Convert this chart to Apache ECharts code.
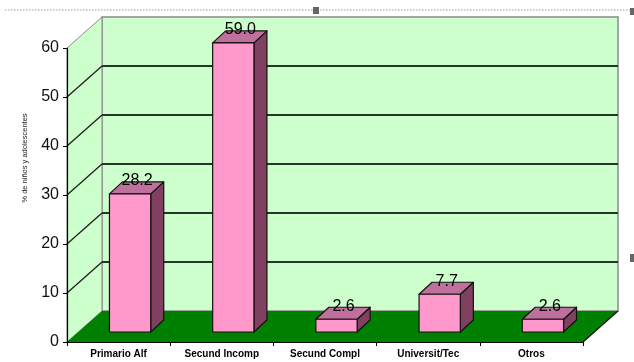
<!DOCTYPE html>
<html>
<head>
<meta charset="utf-8">
<script src="https://cdn.jsdelivr.net/npm/echarts@6/dist/echarts.min.js"></script>
<style>
  html, body { margin: 0; padding: 0; background: #fff; }
  #chart { width: 634px; height: 362px; }
</style>
</head>
<body>
<div id="chart"></div>
<script>
// Nivel educativo: porcentaje por categoría
const categories = ['Primario Alf', 'Secund Incomp', 'Secund Compl', 'Universit/Tec', 'Otros'];
const values = [28.2, 59.0, 2.6, 7.7, 2.6];
const yTicks = [0, 10, 20, 30, 40, 50, 60];
const yTitle = '% de niños y adolescentes';

// Oblique projection used for the pseudo-3D box
const DEPTH = [35, -31];      // front plane -> back wall
const BAR_OFF = [11.5, -10];  // front plane -> bar front face
const BAR_DEPTH = [13, -12];  // bar front face -> bar back face
const BAR_RATIO = 0.4;

const WALL = '#CCFFCC';
const FLOOR = '#008000';
const GRID = '#263626';
const FRONT = '#FF99CC';
const TOP = '#C0709C';
const SIDE = '#80405F';

const chart = echarts.init(document.getElementById('chart'));

function pt(p, d) { return [p[0] + d[0], p[1] + d[1]]; }

function renderBox(params, api) {
  const cs = params.coordSys;
  const L = cs.x, R = cs.x + cs.width;
  const yOf = v => api.coord([0, v])[1];
  const T = yOf(yTicks[yTicks.length - 1]);
  const B = yOf(yTicks[0]);
  const children = [];
  // back wall
  children.push({
    type: 'polygon',
    shape: { points: [pt([L, T], DEPTH), pt([R, T], DEPTH), pt([R, B], DEPTH), pt([L, B], DEPTH)] },
    style: { fill: WALL, stroke: '#8a8a8a', lineWidth: 1.5 }
  });
  // left wall
  children.push({
    type: 'polygon',
    shape: { points: [[L, T], pt([L, T], DEPTH), pt([L, B], DEPTH), [L, B]] },
    style: { fill: WALL, stroke: '#8a8a8a', lineWidth: 1 }
  });
  // gridlines on both walls
  yTicks.slice(1, -1).forEach(v => {
    const y = yOf(v);
    children.push({
      type: 'line',
      shape: { x1: L + DEPTH[0], y1: y + DEPTH[1], x2: R + DEPTH[0], y2: y + DEPTH[1] },
      style: { stroke: GRID, lineWidth: 2.2 }
    });
    children.push({
      type: 'line',
      shape: { x1: L, y1: y, x2: L + DEPTH[0], y2: y + DEPTH[1] },
      style: { stroke: '#1f1f1f', lineWidth: 1.3 }
    });
  });
  // floor
  children.push({
    type: 'polygon',
    shape: { points: [[L, B], [R, B], pt([R, B], DEPTH), pt([L, B], DEPTH)] },
    style: { fill: FLOOR }
  });
  children.push({
    type: 'line',
    shape: { x1: R, y1: B, x2: R + DEPTH[0], y2: B + DEPTH[1] },
    style: { stroke: '#111', lineWidth: 1.2 }
  });
  return { type: 'group', children: children };
}

function renderBar(params, api) {
  const idx = api.value(0);
  const v = api.value(1);
  const base = api.coord([idx, 0]);
  const top = api.coord([idx, v]);
  const w = api.size([1, 0])[0] * BAR_RATIO;
  const x0 = base[0] - w / 2 + BAR_OFF[0];
  const x1 = x0 + w;
  const yb = base[1] + BAR_OFF[1];
  const yt = top[1] + BAR_OFF[1];
  const dx = BAR_DEPTH[0], dy = BAR_DEPTH[1];
  const line = { stroke: '#111', lineWidth: 1.2, lineJoin: 'round' };
  return {
    type: 'group',
    children: [
      { type: 'polygon', shape: { points: [[x1, yt], [x1 + dx, yt + dy], [x1 + dx, yb + dy], [x1, yb]] },
        style: Object.assign({ fill: SIDE }, line) },
      { type: 'polygon', shape: { points: [[x0, yt], [x0 + dx, yt + dy], [x1 + dx, yt + dy], [x1, yt]] },
        style: Object.assign({ fill: TOP }, line) },
      { type: 'rect', shape: { x: x0, y: yt, width: w, height: yb - yt },
        style: Object.assign({ fill: FRONT }, line) },
      { type: 'text', x: (x0 + x1) / 2 + 7, y: yt + dy - 1,
        style: { text: v.toFixed(1), fill: '#000', font: '16px "Liberation Sans", Arial, sans-serif',
                 align: 'center', verticalAlign: 'middle' } }
    ]
  };
}

chart.setOption({
  animation: false,
  backgroundColor: '#fff',
  grid: { left: 67, right: 51, top: 48, bottom: 20 },
  xAxis: {
    type: 'category',
    data: categories,
    z: 10,
    axisLine: { lineStyle: { color: '#000', width: 1.2 } },
    axisTick: { show: true, length: 4, lineStyle: { color: '#000' } },
    axisLabel: { color: '#000', fontSize: 10, fontWeight: 'bold', margin: 7,
                 fontFamily: '"Liberation Sans", Arial, sans-serif', interval: 0 }
  },
  yAxis: {
    type: 'value',
    min: 0, max: 60, interval: 10,
    z: 10,
    axisLine: { show: true, lineStyle: { color: '#000', width: 1.2 } },
    axisTick: { show: true, length: 4, lineStyle: { color: '#000' } },
    axisLabel: { color: '#111', fontSize: 16, margin: 8,
                 fontFamily: '"Liberation Sans", Arial, sans-serif' },
    splitLine: { show: false }
  },
  graphic: [
    { type: 'line', shape: { x1: 5, y1: 10, x2: 634, y2: 10 },
      style: { stroke: '#9a9a9a', lineWidth: 1, lineDash: [1.5, 1.5] } },
    { type: 'rect', shape: { x: 313, y: 7, width: 6, height: 7 }, style: { fill: '#666' } },
    { type: 'rect', shape: { x: 630, y: 8, width: 4, height: 7 }, style: { fill: '#666' } },
    { type: 'rect', shape: { x: 630, y: 254, width: 4, height: 8 }, style: { fill: '#666' } },
    { type: 'text', x: 25, y: 158, rotation: Math.PI / 2,
      style: { text: yTitle, fill: '#222', font: '7.5px "Liberation Sans", Arial, sans-serif',
               align: 'center', verticalAlign: 'middle' } }
  ],
  series: [
    { type: 'custom', renderItem: renderBox, data: [[0, 0]], z: 1, silent: true },
    { type: 'custom', renderItem: renderBar, z: 3,
      data: values.map((v, i) => [i, v]) }
  ]
});
</script>
</body>
</html>
